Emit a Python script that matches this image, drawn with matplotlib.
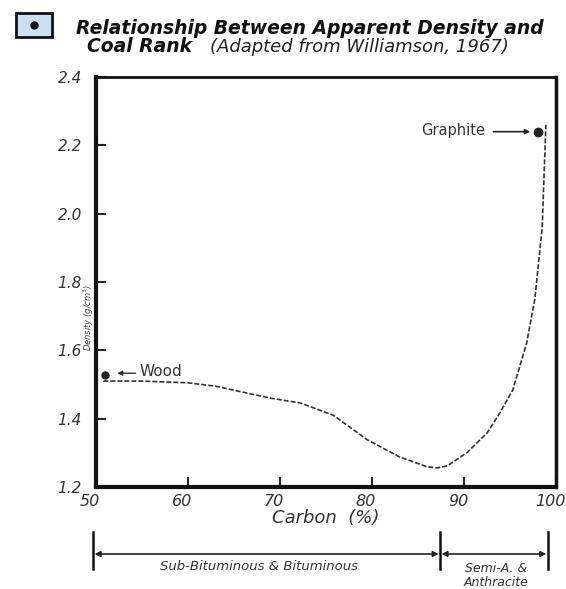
import numpy as np
import matplotlib
matplotlib.use("Agg")
import matplotlib.pyplot as plt
import matplotlib.patches as patches
import matplotlib.transforms as mtransforms

# density curve
carbon = [50.8, 55, 60, 63, 66.4, 69, 72.2, 75.8, 79.5, 83, 86, 87.1,
          88.2, 90.3, 92.5, 93.9, 95.3, 96.8, 97.7, 98.5, 98.9]
density = [1.51, 1.51, 1.505, 1.495, 1.475, 1.46, 1.446, 1.41, 1.338, 1.288,
           1.259, 1.256, 1.262, 1.30, 1.358, 1.417, 1.484, 1.62, 1.75, 1.96, 2.26]

wood = (51.0, 1.528)
graphite = (98.0, 2.24)

xticks = [50, 60, 70, 80, 90, 100]
yticks = [1.2, 1.4, 1.6, 1.8, 2.0, 2.2, 2.4]

# rank ranges along carbon axis
rank_bounds = [49.7, 87.4, 99.1]

W, H = 566, 589
fig = plt.figure(figsize=(W / 100, H / 100), dpi=100)
fig.patch.set_facecolor("white")


def fy(ypx):
    return 1 - ypx / H


def fx(xpx):
    return xpx / W


ax = fig.add_axes([fx(96), fy(487), fx(556) - fx(96), fy(77) - fy(487)])

ax.plot(carbon, density, color="#333333", lw=1.2, ls=(0, (3, 1.2)))

# wood and graphite points
ax.plot(*wood, "o", color="#222222", ms=5)
ax.plot(*graphite, "o", color="#222222", ms=6)
ax.annotate("", xy=(wood[0] + 1.0, wood[1] + 0.005), xytext=(54.6, wood[1] + 0.005),
            arrowprops=dict(arrowstyle="-|>", color="#333333", lw=1, mutation_scale=7))
ax.text(54.7, 1.537, "Wood", fontsize=11, color="#333333", va="center", ha="left")
ax.annotate("", xy=(graphite[0] - 0.5, graphite[1]), xytext=(92.9, graphite[1]),
            arrowprops=dict(arrowstyle="-|>", color="#222222", lw=1.2, mutation_scale=7))
ax.text(92.3, 2.243, "Graphite", fontsize=10.5, color="#333333", va="center", ha="right")

ax.set_xlim(50, 100)
ax.set_ylim(1.2, 2.4)
ax.set_xticks(xticks)
ax.set_xticklabels([str(v) for v in xticks])
ax.set_yticks(yticks)
ax.set_yticklabels(["%.1f" % v for v in yticks])

ax.tick_params(direction="in", length=7, width=1.5, color="#222222")
ax.tick_params(axis="x", pad=5)
ax.tick_params(axis="y", pad=10)

# labels in the scan sit a little left of their ticks
shift = mtransforms.ScaledTranslation(-6 / 100, 0, fig.dpi_scale_trans)
for lab in ax.get_xticklabels():
    lab.set_fontsize(11.5)
    lab.set_transform(lab.get_transform() + shift)
for lab in ax.get_yticklabels():
    lab.set_fontsize(11)
for lab in ax.get_xticklabels() + ax.get_yticklabels():
    lab.set_fontstyle("italic")
    lab.set_color("#333333")

ax.spines["left"].set_linewidth(3)
ax.spines["bottom"].set_linewidth(3)
ax.spines["top"].set_linewidth(2)
ax.spines["right"].set_linewidth(2.5)
for s in ax.spines.values():
    s.set_color("#111111")

ax.set_xlabel("Carbon  (%)", fontsize=13, fontstyle="italic", color="#333333", labelpad=0)
fig.text(fx(89), fy(317), "Density (g/cm$^3$)", rotation=90, fontsize=6,
         color="#444444", ha="center", va="center", fontstyle="italic")

# rank range bars under the axis
trans = mtransforms.blended_transform_factory(ax.transData, fig.transFigure)
for b in rank_bounds:
    ax.plot([b, b], [fy(532), fy(569)], color="#111111", lw=1.8, transform=trans,
            clip_on=False)
for a, b in zip(rank_bounds[:-1], rank_bounds[1:]):
    ax.annotate("", xy=(b - 0.15, fy(554)), xytext=(a + 0.15, fy(554)),
                xycoords=trans, textcoords=trans,
                arrowprops=dict(arrowstyle="<|-|>", color="#222222", lw=1.2,
                                mutation_scale=8, shrinkA=0, shrinkB=0))
ax.text((rank_bounds[0] + rank_bounds[1]) / 2 - 0.8, fy(566), "Sub-Bituminous & Bituminous",
        transform=trans, fontsize=9.5, fontstyle="italic", color="#333333",
        ha="center", va="center")
ax.text((rank_bounds[1] + rank_bounds[2]) / 2 + 0.2, fy(575), "Semi-A. &\nAnthracite",
        transform=trans, fontsize=9, fontstyle="italic", color="#333333",
        ha="center", va="center", linespacing=1.1)

# title with the little icon
fig.patches.append(patches.Rectangle((fx(16), fy(37)), fx(52) - fx(16), fy(13) - fy(37),
                                     transform=fig.transFigure, facecolor="#cddff3",
                                     edgecolor="#111111", lw=2))
fig.add_artist(plt.Line2D([fx(34)], [fy(25)], marker="o", ms=5, color="#111111",
                          transform=fig.transFigure))
fig.text(fx(310), fy(29), "Relationship Between Apparent Density and", fontsize=13.5,
         fontweight="bold", fontstyle="italic", color="#111111", ha="center", va="center")
fig.text(fx(140), fy(47), "Coal Rank", fontsize=13.5, fontweight="bold",
         fontstyle="italic", color="#111111", ha="center", va="center")
fig.text(fx(359), fy(47), "(Adapted from Williamson, 1967)", fontsize=13,
         fontstyle="italic", color="#222222", ha="center", va="center")

fig.savefig("out.png", dpi=100)
